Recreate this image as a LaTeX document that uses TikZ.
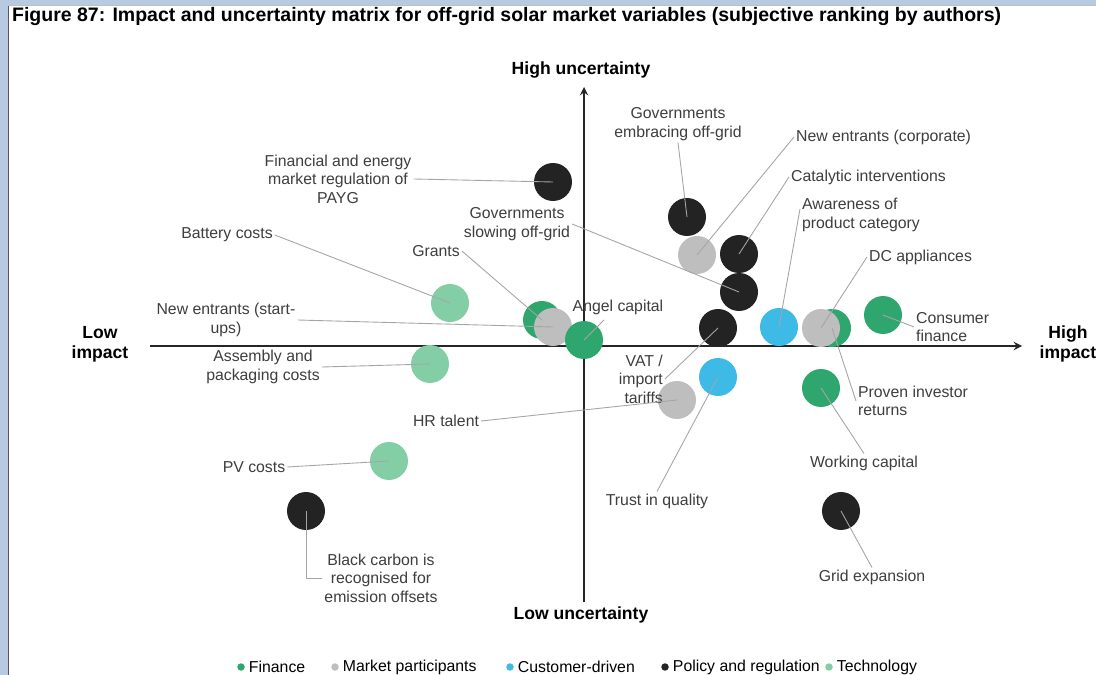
\documentclass[tikz,border=0pt]{standalone}
\usepackage{fontspec}
\setmainfont{Liberation Sans}
\usetikzlibrary{positioning}
\definecolor{finance}{RGB}{46,166,110}
\definecolor{market}{RGB}{190,190,190}
\definecolor{customer}{RGB}{62,186,230}
\definecolor{policy}{RGB}{35,35,35}
\definecolor{techno}{RGB}{132,206,166}
\definecolor{leadgray}{RGB}{165,165,165}
\definecolor{labelgray}{RGB}{62,62,62}
\definecolor{frameblue}{RGB}{183,202,226}

\begin{document}
\begin{tikzpicture}[x=0.02cm, y=-0.02cm,
	every node/.style={font=\fontsize{9}{10.6}\selectfont, text=labelgray, inner sep=1pt},
	lbl/.style={align=center},
	axlbl/.style={font=\bfseries\fontsize{10}{11.5}\selectfont, text=black, align=center},
	dot/.style={circle, minimum size=0.76cm, inner sep=0pt},
	fin/.style={dot, fill=finance},
	mkt/.style={dot, fill=market},
	cust/.style={dot, fill=customer},
	pol/.style={dot, fill=policy},
	tech/.style={dot, fill=techno},
	lead/.style={draw=leadgray, line width=0.5pt},
	legdot/.style={circle, minimum size=0.15cm, inner sep=0pt}]
	\useasboundingbox (0,0) rectangle (1096,675);
	
	% frame
	\fill[frameblue] (0,0) rectangle (1096,675);
	\fill[white] (9,6) rectangle (1096,675);
	\draw[black!65, line width=0.8pt] (8.6,6) -- (8.6,675);
	\draw[black!25, line width=0.4pt] (9,5.8) -- (1096,5.8);
	
	\node[anchor=west, font=\bfseries\fontsize{11.1}{12}\selectfont, text=black] (title) at (10,17) {Figure 87: Impact and uncertainty matrix for off-grid solar market variables (subjective ranking by authors)};
	
	% axes
	\coordinate (xl) at (150,346);
	\coordinate (xr) at (1022,346);
	\coordinate (yb) at (584,602);
	\coordinate (yt) at (584,87);
	\draw[-stealth, line width=1.1pt, black!85] (xl) -- (xr);
	\draw[-stealth, line width=1.1pt, black!85] (yb) -- (yt);
	\node[axlbl] (hiunc) at (581,70) {High uncertainty};
	\node[axlbl] (lounc) at (581,615) {Low uncertainty};
	\node[axlbl] (loimp) at (100,344) {Low\\impact};
	\node[axlbl] (hiimp) at (1068,344) {High\\impact};
	
	% circles
	\node[pol] (payg) at (553,182) {};
	\node[mkt] (newcorp) at (697,255) {};
	\node[pol] (govembr) at (687,217) {};
	\node[pol] (catalytic) at (739,254) {};
	\node[pol] (govslow) at (739,292) {};
	\node[pol] (vat) at (718,328) {};
	\node[cust] (aware) at (779,327) {};
	\node[fin] (proven) at (832,328) {};
	\node[mkt] (dcapp) at (821,328) {};
	\node[fin] (consumer) at (883,315) {};
	\node[tech] (battery) at (450,303) {};
	\node[fin] (grants) at (542,320) {};
	\node[mkt] (startups) at (553,327) {};
	\node[fin] (angel) at (584,340) {};
	\node[tech] (assembly) at (430,364) {};
	\node[mkt] (hr) at (677,400) {};
	\node[cust] (trust) at (718,377) {};
	\node[fin] (working) at (821,388) {};
	\node[tech] (pv) at (389,461) {};
	\node[pol] (carbon) at (306,511) {};
	\node[pol] (grid) at (841,511) {};
	
	% labels
	\node[lbl] (paygL) at (338,179) {Financial and energy\\market regulation of\\PAYG};
	\node[lbl] (govembrL) at (678,124) {Governments\\embracing off-grid};
	\node[anchor=west] (newcorpL) at (794,137) {New entrants (corporate)};
	\node[anchor=west] (catalyticL) at (789,177) {Catalytic interventions};
	\node[anchor=west, align=left] (awareL) at (800,215) {Awareness of\\product category};
	\node[anchor=west] (dcappL) at (867,257) {DC appliances};
	\node[anchor=west, align=left] (consumerL) at (914,327) {Consumer\\finance};
	\node[anchor=west, align=left] (provenL) at (856,401) {Proven investor\\returns};
	\node (workingL) at (864,463) {Working capital};
	\node (gridL) at (872,577) {Grid expansion};
	\node (trustL) at (657,501) {Trust in quality};
	\node[anchor=east, align=right] (vatL) at (665,379) {VAT /\\import\\tariffs};
	\node (hrL) at (446,421) {HR talent};
	\node (pvL) at (254,467) {PV costs};
	\node[lbl] (carbonL) at (381,578) {Black carbon is\\recognised for\\emission offsets};
	\node (batteryL) at (227,235) {Battery costs};
	\node (grantsL) at (436,251) {Grants};
	\node[lbl] (govslowL) at (517,224) {Governments\\slowing off-grid};
	\node[lbl] (startupsL) at (226,320) {New entrants (start-\\ups)};
	\node (angelL) at (618,307) {Angel capital};
	\node[lbl] (assemblyL) at (263,367) {Assembly and\\packaging costs};
	
	\coordinate (angelT) at (604,320);
	\coordinate (awareT) at (800,209);
	
	% leader lines
	\draw[lead] (paygL.east) -- (payg.center);
	\draw[lead] (govembrL.south) -- (govembr.center);
	\draw[lead] (newcorpL.west) -- (newcorp.center);
	\draw[lead] (catalyticL.west) -- (catalytic.center);
	\draw[lead] (awareT) -- (aware.center);
	\draw[lead] (dcappL.west) -- (dcapp.center);
	\draw[lead] (consumerL.west) -- (consumer.center);
	\draw[lead] (provenL.west) -- (proven.center);
	\draw[lead] (workingL.north) -- (working.center);
	\draw[lead] (gridL.north) -- (grid.center);
	\draw[lead] (trustL.north) -- (trust.center);
	\draw[lead] (vatL.east) -- (vat.center);
	\draw[lead] (hrL.east) -- (hr.center);
	\draw[lead] (pvL.east) -- (pv.center);
	\draw[lead] (carbon.center) |- (carbonL.west);
	\draw[lead] (batteryL.east) -- (battery.center);
	\draw[lead] (grantsL.east) -- (grants.center);
	\draw[lead] (govslowL.east) -- (govslow.center);
	\draw[lead] (startupsL.east) -- (startups.center);
	\draw[lead] (angelT) -- (angel.center);
	\draw[lead] (assemblyL.east) -- (assembly.center);
	
	% legend
	\node[legdot, fill=finance] (lgd1) at (241,667) {};
	\node[right=1pt of lgd1, text=black] (lg1) {Finance};
	\node[legdot, fill=market] (lgd2) at (335,667) {};
	\node[right=1pt of lgd2, text=black] (lg2) {Market participants};
	\node[legdot, fill=customer] (lgd3) at (510,667) {};
	\node[right=1pt of lgd3, text=black] (lg3) {Customer-driven};
	\node[legdot, fill=policy] (lgd4) at (665,667) {};
	\node[right=1pt of lgd4, text=black] (lg4) {Policy and regulation};
	\node[legdot, fill=techno] (lgd5) at (829,667) {};
	\node[right=1pt of lgd5, text=black] (lg5) {Technology};
\end{tikzpicture}
\end{document}
